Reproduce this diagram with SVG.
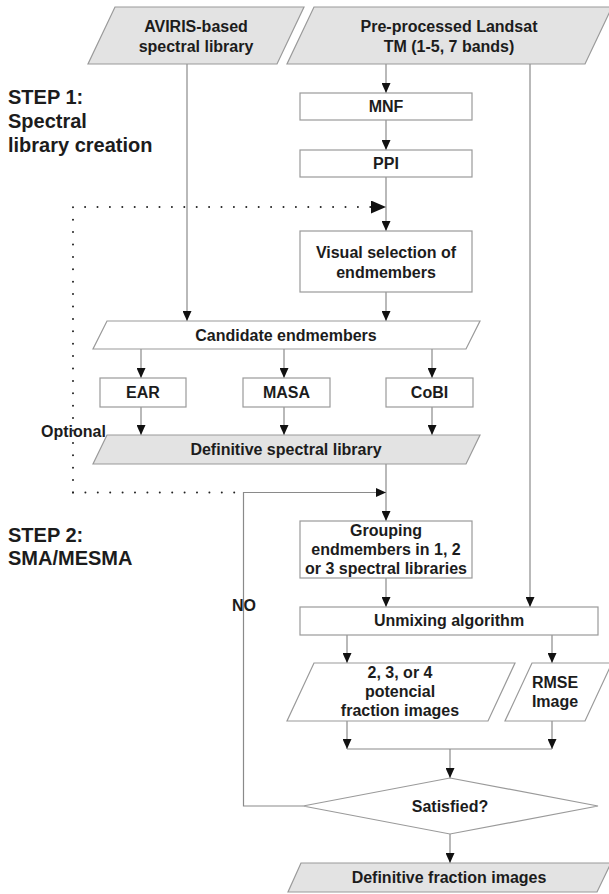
<svg xmlns="http://www.w3.org/2000/svg" width="609" height="894" viewBox="0 0 609 894">
<defs>
<style>
.box{fill:#fff;stroke:#9a9a9a;stroke-width:1.2}
.data{fill:#e3e3e3;stroke:#9a9a9a;stroke-width:1.2}
.t{font-family:"Liberation Sans",Arial,sans-serif;font-weight:bold;font-size:16px;fill:#1c1c1c;text-anchor:middle}
.step{font-family:"Liberation Sans",Arial,sans-serif;font-weight:bold;font-size:20px;fill:#1c1c1c}
.lbl{font-family:"Liberation Sans",Arial,sans-serif;font-weight:bold;font-size:16px;fill:#1c1c1c}
.ln{fill:none;stroke:#8a8a8a;stroke-width:1.2}
.dot{fill:none;stroke:#222;stroke-width:2;stroke-linecap:round;stroke-dasharray:0 12.4}
</style>
<marker id="ah" markerUnits="userSpaceOnUse" markerWidth="10" markerHeight="9" refX="10" refY="4.5" orient="auto">
<path d="M0,0 L10,4.5 L0,9 z" fill="#111"/>
</marker>
<marker id="ahb" markerUnits="userSpaceOnUse" markerWidth="15" markerHeight="13" refX="15" refY="6.5" orient="auto">
<path d="M0,0 L15,6.5 L0,13 z" fill="#111"/>
</marker>
</defs>
<rect width="609" height="894" fill="#fff"/>

<g id="labels">
<text class="step" x="8" y="104">STEP 1:</text>
<text class="step" x="8" y="128">Spectral</text>
<text class="step" x="8" y="152">library creation</text>
<text class="step" x="8" y="542">STEP 2:</text>
<text class="step" x="8" y="565">SMA/MESMA</text>
</g>

<g id="connectors">
<path class="ln" d="M386,64 V93" marker-end="url(#ah)"/>
<path class="ln" d="M386,120 V150" marker-end="url(#ah)"/>
<path class="ln" d="M386,177 V231" marker-end="url(#ah)"/>
<path class="ln" d="M386,292 V321" marker-end="url(#ah)"/>
<path class="ln" d="M187,64 V321" marker-end="url(#ah)"/>
<path class="ln" d="M141,349 V378" marker-end="url(#ah)"/>
<path class="ln" d="M284,349 V378" marker-end="url(#ah)"/>
<path class="ln" d="M432,349 V378" marker-end="url(#ah)"/>
<path class="ln" d="M141,407 V435" marker-end="url(#ah)"/>
<path class="ln" d="M284,407 V435" marker-end="url(#ah)"/>
<path class="ln" d="M432,407 V435" marker-end="url(#ah)"/>
<path class="ln" d="M386,464 V521" marker-end="url(#ah)"/>
<path class="ln" d="M303,806 H243.5 V492.5 H386" marker-end="url(#ah)"/>
<path class="ln" d="M386,578 V607" marker-end="url(#ah)"/>
<path class="ln" d="M530,64 V607" marker-end="url(#ah)"/>
<path class="ln" d="M347,635 V663" marker-end="url(#ah)"/>
<path class="ln" d="M552,635 V663" marker-end="url(#ah)"/>
<path class="ln" d="M347,721 V749" marker-end="url(#ah)"/>
<path class="ln" d="M552,721 V749" marker-end="url(#ah)"/>
<path class="ln" d="M347,749 H552"/>
<path class="ln" d="M450,749 V778" marker-end="url(#ah)"/>
<path class="ln" d="M450,834 V863" marker-end="url(#ah)"/>
<path class="dot" d="M73,492.5 V207 H372"/>
<path class="dot" d="M73,492.5 H240"/>
<path d="M372,207 H386" fill="none" stroke="none" marker-end="url(#ahb)"/>
<text class="lbl" x="41" y="437">Optional</text>
<text class="lbl" x="232" y="611">NO</text>
</g>

<g id="aviris">
<polygon class="data" points="115,7 304,7 277,64 88,64"/>
<text class="t" x="196" y="32">AVIRIS-based</text>
<text class="t" x="196" y="52">spectral library</text>
</g>
<g id="landsat">
<polygon class="data" points="314,7 612,7 585,64 287,64"/>
<text class="t" x="449" y="32">Pre-processed Landsat</text>
<text class="t" x="449" y="52">TM (1-5, 7 bands)</text>
</g>
<g id="mnf">
<rect class="box" x="300" y="93" width="172" height="27"/>
<text class="t" x="386" y="112">MNF</text>
</g>
<g id="ppi">
<rect class="box" x="300" y="150" width="172" height="27"/>
<text class="t" x="386" y="169">PPI</text>
</g>
<g id="visual">
<rect class="box" x="300" y="231" width="172" height="61"/>
<text class="t" x="386" y="258">Visual selection of</text>
<text class="t" x="386" y="278">endmembers</text>
</g>
<g id="candidate">
<polygon class="box" points="107,321 480,321 466,349 93,349"/>
<text class="t" x="286" y="341">Candidate endmembers</text>
</g>
<g id="ear">
<rect class="box" x="100" y="378" width="86" height="29"/>
<text class="t" x="143" y="398">EAR</text>
</g>
<g id="masa">
<rect class="box" x="243" y="378" width="87" height="29"/>
<text class="t" x="286.5" y="398">MASA</text>
</g>
<g id="cobi">
<rect class="box" x="386" y="378" width="87" height="29"/>
<text class="t" x="429.5" y="398">CoBI</text>
</g>
<g id="deflib">
<polygon class="data" points="107,435 480,435 466,464 93,464"/>
<text class="t" x="286" y="455">Definitive spectral library</text>
</g>
<g id="grouping">
<rect class="box" x="300" y="521" width="172" height="57"/>
<text class="t" x="386" y="536">Grouping</text>
<text class="t" x="386" y="555">endmembers in 1, 2</text>
<text class="t" x="386" y="574">or 3 spectral libraries</text>
</g>
<g id="unmixing">
<rect class="box" x="300" y="607" width="298" height="28"/>
<text class="t" x="449" y="626">Unmixing algorithm</text>
</g>
<g id="fractions">
<polygon class="box" points="314,663 515,663 488,721 287,721"/>
<text class="t" x="400" y="678">2, 3, or 4</text>
<text class="t" x="400" y="697">potencial</text>
<text class="t" x="400" y="716">fraction images</text>
</g>
<g id="rmse">
<polygon class="box" points="532,663 612,663 585,721 505,721"/>
<text class="t" x="555" y="688">RMSE</text>
<text class="t" x="555" y="707">Image</text>
</g>
<g id="satisfied">
<polygon class="box" points="450,778 598,806 450,834 303,806"/>
<text class="t" x="450" y="811.5">Satisfied?</text>
</g>
<g id="deffrac">
<polygon class="data" points="301,863 611,863 597,892 288,892"/>
<text class="t" x="449" y="883">Definitive fraction images</text>
</g>
</svg>
